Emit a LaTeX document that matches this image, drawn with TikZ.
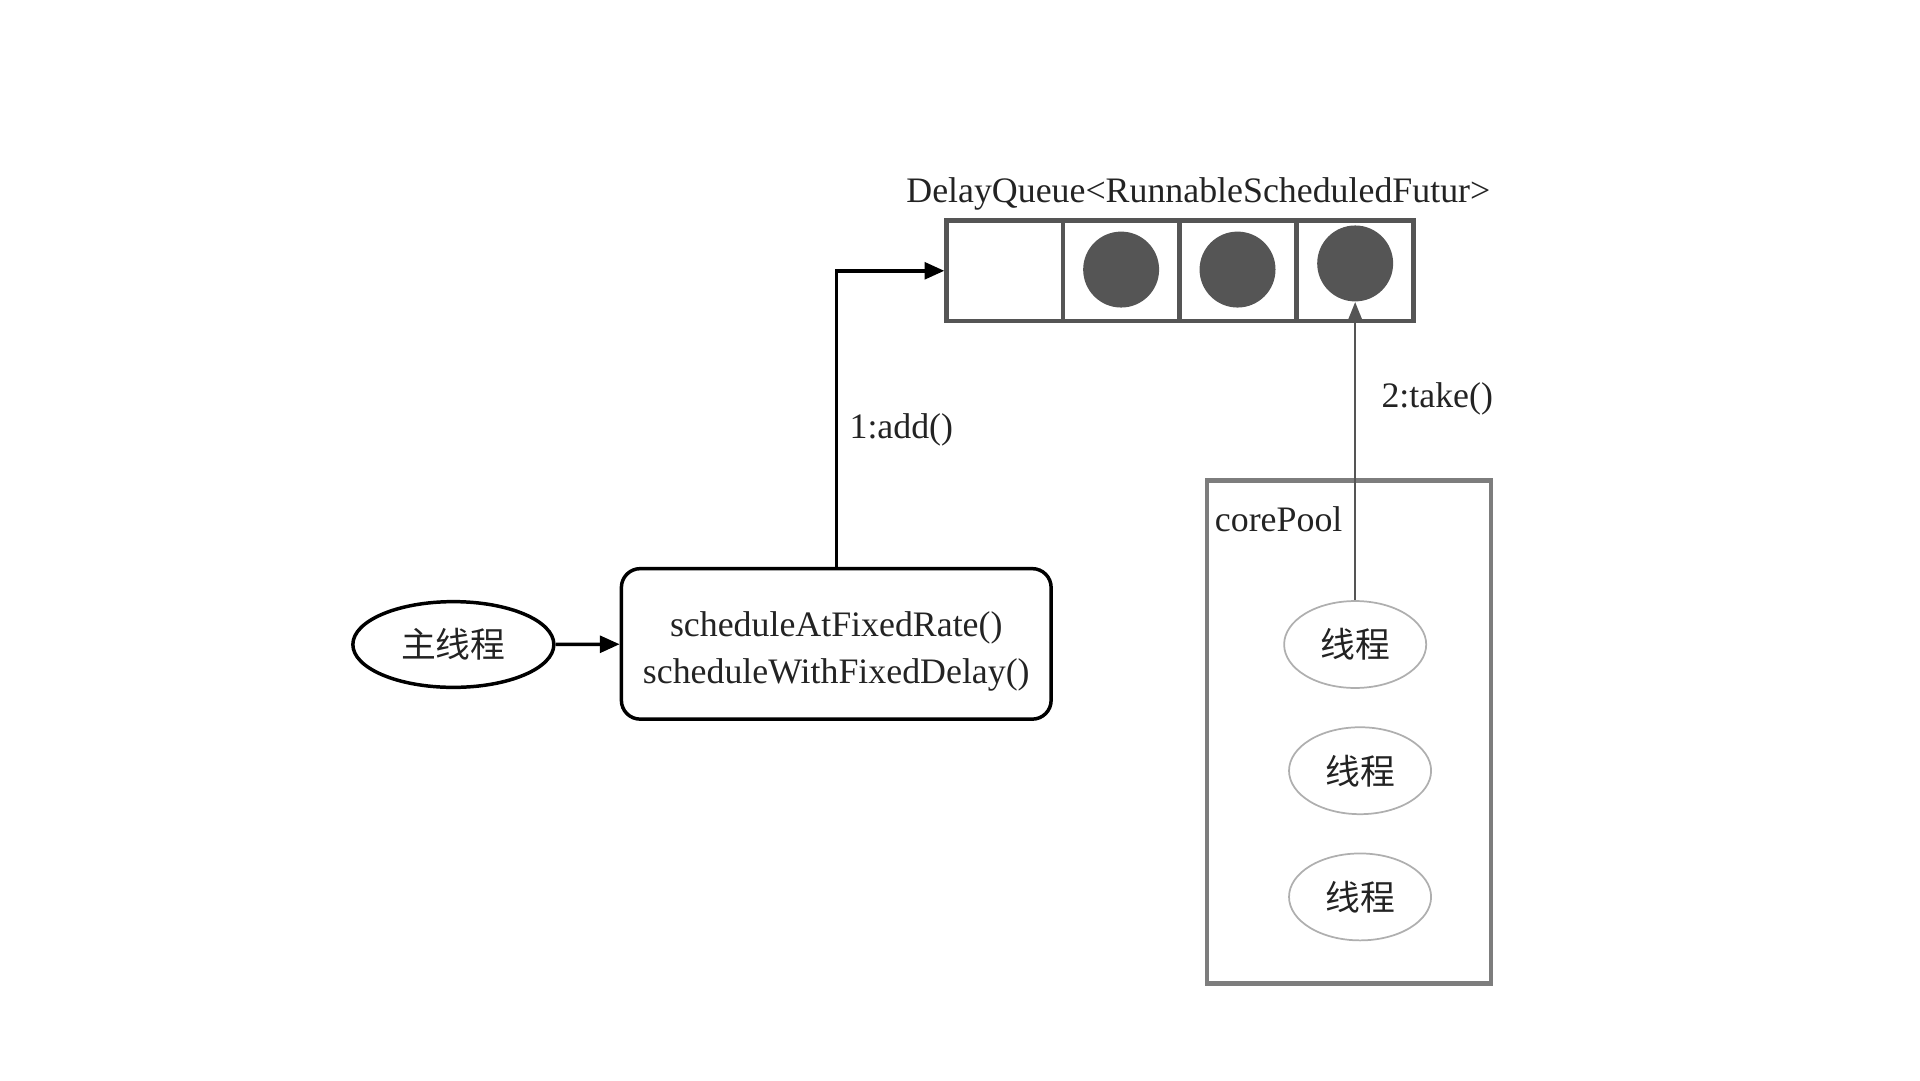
\documentclass[tikz,border=0pt]{standalone}
\usepackage{fontspec}
\setmainfont{Liberation Serif}
\newfontfamily\cjk{Noto Sans CJK SC}
\usetikzlibrary{arrows.meta}
\usetikzlibrary{shapes.geometric}

\definecolor{queuegray}{RGB}{85,85,85}
\definecolor{poolgray}{RGB}{125,125,125}
\definecolor{workergray}{RGB}{175,175,175}
\definecolor{textgray}{RGB}{35,35,35}

\begin{document}
\begin{tikzpicture}[x=0.01237cm,y=-0.01237cm,text=textgray,
    font=\fontsize{10.3}{13.7}\selectfont,
    cell/.style={draw=queuegray,line width=1.3pt,minimum width=1.175cm,minimum height=1.014cm,inner sep=0},
    task/.style={circle,fill=queuegray,minimum size=0.767cm,inner sep=0},
    worker/.style={ellipse,draw=workergray,line width=0.5pt,minimum width=1.435cm,minimum height=0.878cm,inner sep=0,font=\cjk\fontsize{10}{12}\selectfont},
    call/.style={-{Triangle[length=0.2cm,width=0.17cm]},line width=1pt},
    take/.style={-{Triangle[length=0.18cm,width=0.14cm]},line width=0.5pt,draw=queuegray,fill=black}]

    % white background
    \useasboundingbox (0,0) rectangle (1567,882);

    % delay queue
    \node (title) at (978,158) {DelayQueue<RunnableScheduledFutur>};
    \foreach \i/\x in {1/820,2/915,3/1010.5,4/1106}
        \node[cell] (c\i) at (\x,221) {};
    \foreach \i/\x/\y in {2/915/220,3/1010/220,4/1106/215}
        \node[task] (t\i) at (\x,\y) {};

    % core pool with its threads
    \node[draw=poolgray,line width=1.3pt,minimum width=2.87cm,minimum height=5.08cm,inner sep=0] (pool) at (1101,597.5) {};
    \node[anchor=west,inner sep=0] (pooltext) at (991,424) {corePool};
    \node[worker] (w1) at (1106,526) {线程};
    \node[worker] (w2) at (1110,629) {线程};
    \node[worker] (w3) at (1110,732) {线程};

    % main thread and schedule methods
    \node[ellipse,draw=black,line width=1pt,minimum width=2.03cm,minimum height=0.866cm,inner sep=0,font=\cjk\fontsize{10}{12}\selectfont] (main) at (370,526) {主线程};
    \node[draw=black,rounded corners=0.19cm,line width=1pt,minimum width=4.34cm,minimum height=1.52cm,align=center] (sched) at (682.5,525.5) {\rule{0pt}{11.5pt}scheduleAtFixedRate()\\scheduleWithFixedDelay()};

    % arrows
    \draw[call] (main) -- (sched);
    \draw[call] (sched.north) |- node[pos=0.232,right] {1:add()} (c1.west);
    \draw[take] (w1.north) -- node[pos=0.677,right,xshift=0.14cm] {2:take()} (t4.south);

\end{tikzpicture}
\end{document}
